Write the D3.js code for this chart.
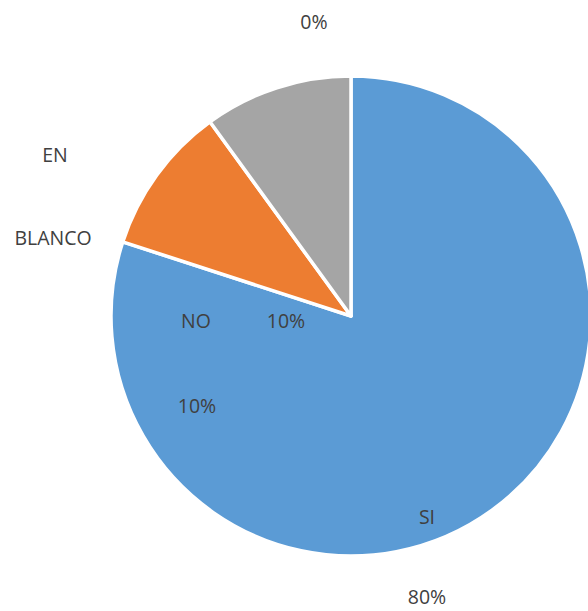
<!DOCTYPE html>
<html><head><meta charset="utf-8">
<script src="https://cdn.jsdelivr.net/npm/d3@7"></script>
<style>html,body{margin:0;padding:0;background:#fff;overflow:hidden}</style>
</head><body>
<script>
const categories = ["SI", "NO", "EN BLANCO"];
const values = [80, 10, 10];
const colors = ["#5B9BD5", "#ED7D31", "#A5A5A5"];
const percentLabels = ["80%", "10%", "10%", "0%"];

const W = 588, H = 611;
const svg = d3.select("body").append("svg").attr("width", W).attr("height", H);
const cx = 351, cy = 316, R = 240;
const g = svg.append("g").attr("transform", `translate(${cx},${cy})`);
const pie = d3.pie().sort(null).value(d => d)(values);
const arc = d3.arc().innerRadius(0).outerRadius(R);
const color = d3.scaleOrdinal().domain(categories).range(colors);
g.selectAll("path").data(pie).join("path")
  .attr("d", arc)
  .attr("fill", (d, i) => color(categories[i]))
  .attr("stroke", "#fff").attr("stroke-width", 3.5).attr("stroke-linejoin", "round");

const font = "'Open Sans', sans-serif";
function label(txt, x, y) {
  svg.append("text").attr("x", x).attr("y", y).attr("text-anchor", "middle")
    .attr("dominant-baseline", "central")
    .attr("font-family", font).attr("font-size", 19.5).attr("fill", "#404040").text(txt);
}
// category labels
label(categories[0], 427, 516);
label(categories[1], 196, 320);
const enBlanco = categories[2].split(" ");
label(enBlanco[0], 55, 154);
label(enBlanco[1], 53, 237);
// percentage labels
label(percentLabels[0], 427, 596);
label(percentLabels[1], 286, 320);
label(percentLabels[2], 197, 405);
label(percentLabels[3], 314, 21);
</script>
</body></html>
